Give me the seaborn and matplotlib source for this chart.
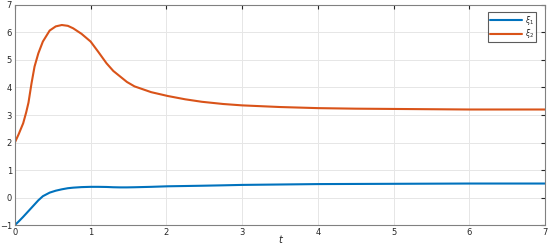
import matplotlib
matplotlib.use("Agg")
import matplotlib.pyplot as plt
import seaborn as sns
import pandas as pd

t = [0.0, 0.05, 0.11, 0.15, 0.18, 0.22, 0.26, 0.31, 0.37, 0.46, 0.54, 0.62, 0.7, 0.77, 0.88, 1.0,
     1.1, 1.21, 1.3, 1.39, 1.48, 1.58, 1.8, 2.02, 2.25, 2.47, 2.75, 3.0, 3.5, 4.0, 4.5, 5.0, 5.5, 6.0, 6.5, 7.0]
xi2 = [2.0, 2.3, 2.7, 3.1, 3.45, 4.15, 4.76, 5.24, 5.67, 6.07, 6.22, 6.27, 6.24, 6.15, 5.95, 5.67,
       5.3, 4.88, 4.6, 4.4, 4.2, 4.04, 3.83, 3.69, 3.57, 3.48, 3.4, 3.35, 3.29, 3.25, 3.23, 3.22, 3.21, 3.2, 3.2, 3.2]
xi1 = [-1.0, -0.87, -0.7, -0.58, -0.49, -0.37, -0.25, -0.1, 0.05, 0.18, 0.25, 0.30, 0.34, 0.36, 0.38, 0.39,
       0.39, 0.385, 0.375, 0.37, 0.37, 0.375, 0.39, 0.41, 0.42, 0.43, 0.445, 0.46, 0.475, 0.49, 0.495, 0.5, 0.505, 0.51, 0.51, 0.51]

df = pd.DataFrame({"t": t * 2, "v": xi1 + xi2,
                   "s": [r"$\xi_1$"] * len(t) + [r"$\xi_2$"] * len(t)})

sns.set_style("white")
plt.rcParams['font.family'] = ['DejaVu Sans']
fig = plt.figure(figsize=(5.5, 2.46), dpi=100)
ax = fig.add_axes([0.027, 0.085, 0.964, 0.895])
sns.lineplot(data=df, x="t", y="v", hue="s", palette=["#0072BD", "#D95319"], lw=1.5, ax=ax, sort=False)
ax.set_xlim(0, 7)
ax.set_ylim(-1, 7)
ax.set_xticks(range(0, 8))
ax.set_yticks(range(-1, 8))
ax.tick_params(direction="in", length=3, labelsize=6, colors="#262626", top=True, right=True, pad=2)
ax.grid(True, color="#e6e6e6", lw=0.7)
for s in ax.spines.values():
    s.set_color("#808080")
    s.set_linewidth(0.8)
ax.set_xlabel("t", fontstyle="italic", fontsize=7, labelpad=-1)
ax.set_ylabel("")
leg = ax.legend(loc="upper right", fontsize=5.5, frameon=True, fancybox=False, handlelength=4.2,
                handletextpad=0.4, borderpad=0.25, labelspacing=0.05, borderaxespad=0,
                bbox_to_anchor=(0.983, 0.968))
leg.get_frame().set_edgecolor("#333333")
leg.get_frame().set_linewidth(0.8)
fig.savefig("out.png", dpi=100)
